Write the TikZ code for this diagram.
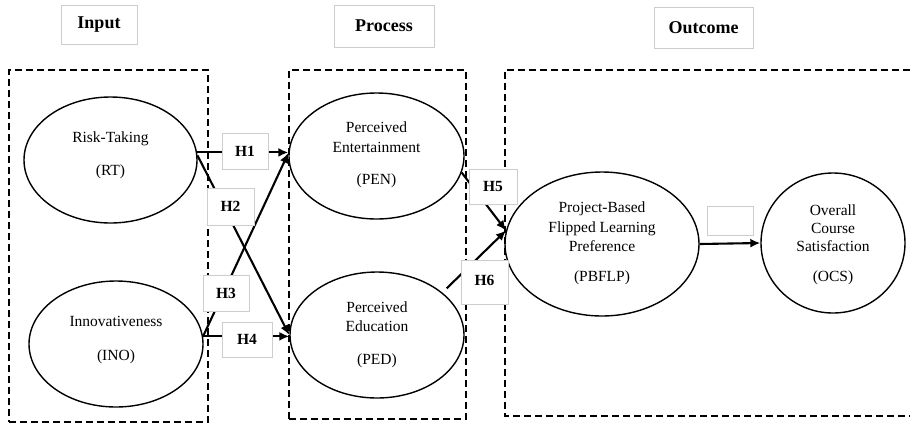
\documentclass[tikz,border=0pt]{standalone}
\usepackage{fontspec}
\setmainfont{Liberation Serif}
\usetikzlibrary{shapes.geometric,arrows.meta}
\definecolor{boxgray}{RGB}{205,205,205}
\tikzset{
  construct/.style={ellipse, draw=black, line width=1.4pt, inner sep=0pt},
  ctext/.style={align=center, font=\fontsize{15.5}{19.5}\selectfont, inner sep=0pt},
  hbox/.style={draw=boxgray, fill=white, line width=0.8pt, font=\fontsize{15.5}{18}\selectfont\bfseries, inner sep=0pt},
  titlebox/.style={draw=boxgray, line width=0.8pt, font=\fontsize{18}{21}\selectfont\bfseries, inner sep=0pt},
  groupbox/.style={draw=black, line width=2.4pt, dash pattern=on 7pt off 4pt, inner sep=0pt},
  link/.style={draw=black, line width=2.1pt, -{Latex[length=10pt,width=9pt]}},
}
\begin{document}
\begin{tikzpicture}[x=1pt,y=-1pt]
\useasboundingbox (0,0) rectangle (910,424);
% titles
\node[titlebox, minimum width=76pt, minimum height=39pt] (tin) at (99,24.5) {Input};
\node[titlebox, minimum width=100pt, minimum height=42pt] (tproc) at (384,26) {Process};
\node[titlebox, minimum width=99pt, minimum height=41pt] (tout) at (703.5,27.5) {Outcome};
% groups
\node[groupbox, minimum width=199pt, minimum height=352pt] (ginput) at (108.5,246) {};
\node[groupbox, minimum width=177pt, minimum height=349pt] (gproc) at (377.5,244.5) {};
\draw[groupbox] (910,70) -- (505,70) -- (505,416) -- (910,416);
% constructs
\node[construct, minimum width=173pt, minimum height=126pt] (RT) at (110.5,160) {};
\node[construct, minimum width=175pt, minimum height=126pt] (PEN) at (376.5,156) {};
\node[construct, minimum width=174pt, minimum height=126pt] (INO) at (116,344) {};
\node[construct, minimum width=174pt, minimum height=126pt] (PED) at (377,335) {};
\node[construct, minimum width=194pt, minimum height=144pt] (PBFLP) at (602,244) {};
\node[construct, minimum width=144pt, minimum height=140pt] (OCS) at (833,243) {};
% links
\draw[link] (RT.5) -- (RT.5 -| PEN.west);
\draw[link] (RT.3) -- (PED.west);
\draw[link] (INO.5) -- (PEN.178);
\draw[link] (INO.5) -- (INO.5 -| PED.west);
\draw[link] (PEN.-11) -- (PBFLP.172);
\draw[link, shorten <=6pt] (PED.33) -- (PBFLP.172);
\draw[link] (PBFLP.east) -- (OCS.west);
% hypothesis labels
\node[hbox, minimum width=46pt, minimum height=36pt] (H1) at (245,151) {H1};
\node[hbox, minimum width=47pt, minimum height=37pt] (H2) at (230.5,206.5) {H2};
\node[hbox, minimum width=46pt, minimum height=36pt] (H3) at (226,293) {H3};
\node[hbox, minimum width=50pt, minimum height=35pt] (H4) at (247,339.5) {H4};
\node[hbox, minimum width=48pt, minimum height=35pt] (H5) at (493,186.5) {H5};
\node[hbox, minimum width=47pt, minimum height=44pt] (H6) at (484.5,282) {\raisebox{4pt}{H6}};
\node[hbox, minimum width=46pt, minimum height=29pt] (H7) at (730,220.5) {};
% construct texts
\node[ctext] (tRT) at (110.5,155) {Risk-Taking\\[13.5pt](RT)};
\node[ctext] (tPEN) at (376.5,155) {Perceived\\Entertainment\\[13pt](PEN)};
\node[ctext] (tINO) at (116,340) {Innovativeness\\[14pt](INO)};
\node[ctext] (tPED) at (377,334.5) {Perceived\\Education\\[13pt](PED)};
\node[ctext] (tPBFLP) at (602,243.5) {Project-Based\\Flipped Learning\\Preference\\[10.5pt](PBFLP)};
\node[ctext] (tOCS) at (833,245) {Overall\\[-1.5pt]Course\\[-1.5pt]Satisfaction\\[10.5pt](OCS)};
\end{tikzpicture}
\end{document}
